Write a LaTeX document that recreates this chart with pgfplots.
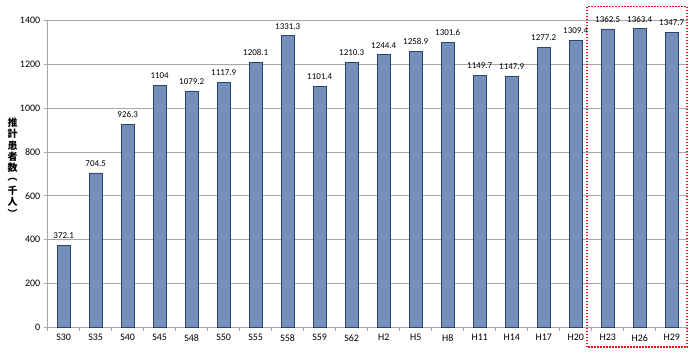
\documentclass[border=0pt]{standalone}
\usepackage{pgfplots}
\pgfplotsset{compat=1.18}
\usepackage{fontspec}
\setmainfont{Carlito}
\newfontfamily\cjk{Noto Sans CJK JP}
\definecolor{barfill}{RGB}{115,143,189}
\definecolor{baredge}{RGB}{45,70,100}
\definecolor{gridc}{RGB}{166,166,166}
\definecolor{boxred}{RGB}{235,20,20}
\newcommand\vc[1]{\hbox to 12bp{\hss\vbox to 11.4bp{\vss\hbox{#1}\vss}\hss}}
\begin{document}
\begin{tikzpicture}
\begin{axis}[
  scale only axis, width=640bp, height=306.3bp,
  xmin=-0.5, xmax=19.5, ymin=0, ymax=1400,
  /pgf/number format/assume math mode=true,
  /pgf/number format/1000 sep={},
  ytick={0,200,...,1400},
  xtick={0,...,19},
  xticklabels={S30,S35,S40,S45,S48,S50,S55,S58,S59,S62,H2,H5,H8,H11,H14,H17,H20,H23,H26,H29},
  minor xtick={-0.5,0.5,...,19.5},
  axis lines*=left,
  ymajorgrids,
  major grid style={gridc, line width=0.8bp},
  axis line style={gridc, line width=0.8bp},
  tick style={gridc, line width=0.8bp},
  major x tick style={draw=none},
  tick align=outside,
  major tick length=4bp, minor tick length=4bp,
  ticklabel style={font=\fontsize{10}{12}\selectfont},
  clip=false,
]
\addplot[ybar, bar width=13bp, fill=barfill, draw=baredge, line width=0.6bp,
  nodes near coords={\pgfmathprintnumber[fixed,precision=1]{\pgfplotspointmeta}},
  nodes near coords style={font=\fontsize{9}{10}\selectfont, text=black, anchor=south, yshift=3bp}]
coordinates {
(0,372.1) (1,704.5) (2,926.3) (3,1104) (4,1079.2) (5,1117.9) (6,1208.1) (7,1331.3)
(8,1101.4) (9,1210.3) (10,1244.4) (11,1258.9) (12,1301.6) (13,1149.7) (14,1147.9)
(15,1277.2) (16,1309.4) (17,1362.5) (18,1363.4) (19,1347.7)
};
\draw[boxred, line width=1.5bp, dash pattern=on 1.5bp off 1.5bp]
  (axis cs:16.35,-92) rectangle (axis cs:19.48,1465);
\node[font=\cjk\bfseries\fontsize{10}{10}\selectfont, inner sep=0pt]
  at ([xshift=-35bp]rel axis cs:0,0.519)
  {\vbox{\offinterlineskip\vc{推}\vc{計}\vc{患}\vc{者}\vc{数}\vc{︵}\vc{千}\vc{人}\vc{︶}}};
\end{axis}
\path ([xshift=-47.7bp,yshift=-29bp]current axis.south west) rectangle ([xshift=12.3bp,yshift=20.7bp]current axis.north east);
\end{tikzpicture}
\end{document}
